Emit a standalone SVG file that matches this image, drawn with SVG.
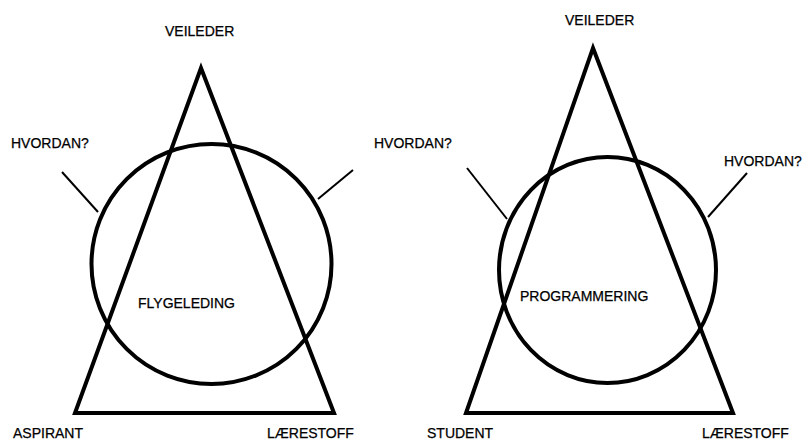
<svg xmlns="http://www.w3.org/2000/svg" width="803" height="442" viewBox="0 0 803 442">
<style>
.shape{fill:none;stroke:#000;stroke-width:4;stroke-linejoin:miter}
.tick{fill:none;stroke:#000;stroke-width:2}
text{font-family:"Liberation Sans",Arial,sans-serif;font-size:14px;fill:#000;stroke:#000;stroke-width:0.25}
</style>
<rect width="803" height="442" fill="#fff"/>
<g id="left-diagram">
  <g id="left-triangle"><polygon class="shape" points="201,68 334,413 75,413"/></g>
  <g id="left-circle"><circle class="shape" cx="211.5" cy="264" r="120"/></g>
  <g id="left-veileder"><text x="165" y="36">VEILEDER</text></g>
  <g id="left-hvordan"><text x="11" y="148">HVORDAN?</text></g>
  <g id="left-flygeleding"><text x="138" y="308">FLYGELEDING</text></g>
  <g id="left-aspirant"><text x="13" y="438">ASPIRANT</text></g>
  <g id="left-laerestoff"><text x="267" y="438">LÆRESTOFF</text></g>
</g>
<g id="right-diagram">
  <g id="right-triangle"><polygon class="shape" points="593,48 733,413 466,413"/></g>
  <g id="right-circle"><ellipse class="shape" cx="607.5" cy="270" rx="108.5" ry="113"/></g>
  <g id="right-veileder"><text x="565" y="25">VEILEDER</text></g>
  <g id="right-hvordan-left"><text x="374" y="148">HVORDAN?</text></g>
  <g id="right-hvordan-right"><text x="724" y="166">HVORDAN?</text></g>
  <g id="right-programmering"><text x="520" y="301">PROGRAMMERING</text></g>
  <g id="right-student"><text x="427" y="438">STUDENT</text></g>
  <g id="right-laerestoff"><text x="702" y="438">LÆRESTOFF</text></g>
</g>
<g id="connectors">
  <line class="tick" x1="62" y1="172" x2="98" y2="212"/>
  <line class="tick" x1="353" y1="170" x2="318" y2="199"/>
  <line class="tick" x1="467" y1="168" x2="507" y2="219"/>
  <line class="tick" x1="747" y1="173" x2="708" y2="217"/>
</g>
</svg>
